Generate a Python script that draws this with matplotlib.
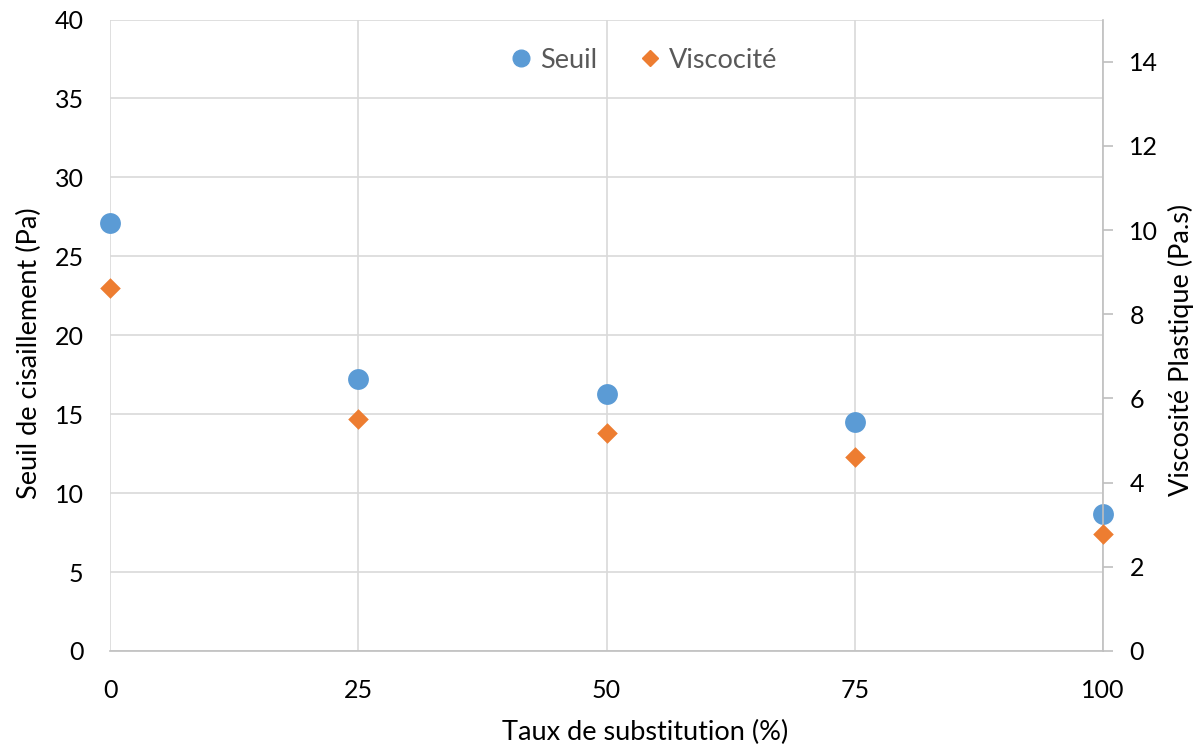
import numpy as np
import matplotlib
matplotlib.use("Agg")
from matplotlib import pyplot as plt
from matplotlib.lines import Line2D

plt.rcParams['font.family'] = ['Lato', 'DejaVu Sans']

taux = [0, 25, 50, 75, 100]
seuil = [27.1, 17.25, 16.25, 14.5, 8.7]
viscosite = [8.63, 5.5, 5.19, 4.6, 2.78]

x_ticks = [0, 25, 50, 75, 100]
left_ticks = np.arange(0, 45, 5)
right_ticks = np.arange(0, 16, 2)

blue = '#5B9BD5'
orange = '#ED7D31'
grid_col = '#D9D9D9'
spine_col = '#BFBFBF'

fig = plt.figure(figsize=(12.03, 7.47), dpi=100)
ax = fig.add_axes([110 / 1203, 1 - 651 / 747, (1103 - 110) / 1203, (651 - 19.5) / 747])
ax2 = ax.twinx()

ax.scatter(taux, seuil, s=225, color=blue, marker='o', zorder=3, clip_on=False, linewidths=0)
ax2.scatter(taux, viscosite, s=110, color=orange, marker='D', zorder=3, clip_on=False, linewidths=0)

ax.set_xlim(0, 100)
ax.set_ylim(0, 40)
ax2.set_ylim(0, 15)
ax.set_xticks(x_ticks)
ax.set_yticks(left_ticks)
ax2.set_yticks(right_ticks)

ax.grid(True, color=grid_col, linewidth=1.2)
ax.set_axisbelow(True)

for s in ['top', 'left']:
    ax.spines[s].set_visible(False)
    ax2.spines[s].set_visible(False)
ax.spines['right'].set_visible(False)
ax.spines['bottom'].set_color(spine_col)
ax.spines['bottom'].set_linewidth(1.2)
ax2.spines['bottom'].set_visible(False)
ax2.spines['right'].set_color(spine_col)
ax2.spines['right'].set_linewidth(1.2)

ax.tick_params(axis='x', length=0, pad=20, labelsize=18)
ax.tick_params(axis='y', length=0, pad=19, labelsize=18)
ax2.tick_params(axis='y', length=7, width=1.2, color=spine_col, direction='out', pad=12, labelsize=18)

ax.set_xlabel('Taux de substitution (%)', fontsize=19.5, labelpad=13)
ax.set_ylabel('Seuil de cisaillement (Pa)', fontsize=19.5, labelpad=9)
ax2.set_ylabel('Viscosité Plastique (Pa.s)', fontsize=19.5, labelpad=7)
ax.xaxis.label.set_x((645 - 110) / 993)
ax.yaxis.label.set_y((651 - 353) / 631.5)
ax2.yaxis.label.set_y((651 - 350) / 631.5)

handles = [
    Line2D([], [], marker='o', color=blue, linestyle='none', markersize=12),
    Line2D([], [], marker='D', color=orange, linestyle='none', markersize=8),
]
leg = fig.legend(handles, ['Seuil', 'Viscocité'], loc='center', bbox_to_anchor=(641 / 1203, 1 - 60 / 747),
                 ncol=2, frameon=False, fontsize=19.5, handletextpad=0.1, columnspacing=1.35, handlelength=1.2)
for t in leg.get_texts():
    t.set_color('#595959')

fig.savefig('out.png', dpi=100)
